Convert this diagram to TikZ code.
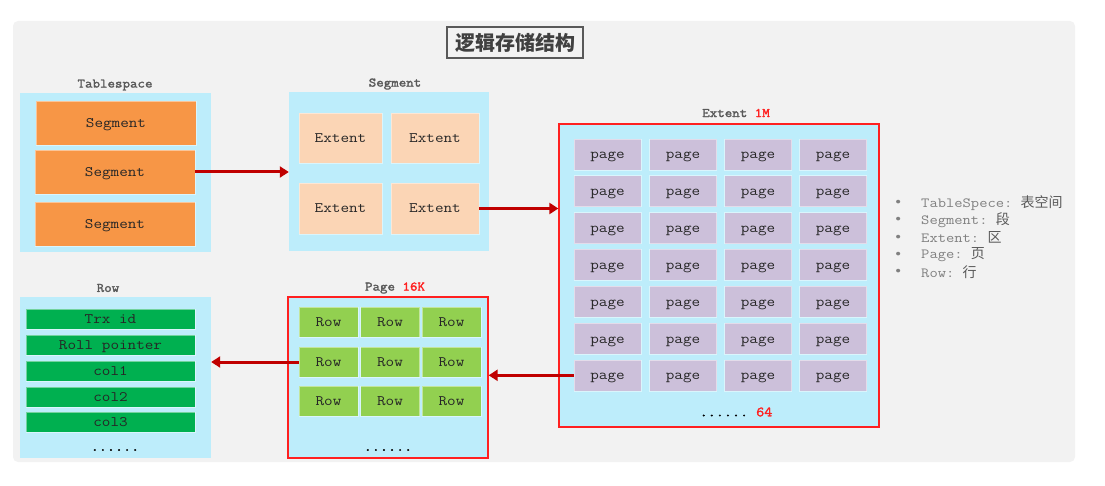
\documentclass[tikz,border=0pt]{standalone}
\usepackage{fontspec}
\setmainfont{Liberation Sans}
\setmonofont[FakeStretch=1.15]{Latin Modern Mono}
\newfontfamily\ttbold[FakeStretch=1.12, FakeBold=2]{Latin Modern Mono}
\newfontfamily\cjk{Noto Sans CJK SC}
\usetikzlibrary{arrows.meta}
\definecolor{bggray}{HTML}{F2F2F2}
\definecolor{cyanbox}{HTML}{BDEDFB}
\definecolor{orangebox}{HTML}{F79646}
\definecolor{peachbox}{HTML}{FBD5B5}
\definecolor{purplebox}{HTML}{CCC0DA}
\definecolor{lgreen}{HTML}{92D050}
\definecolor{dgreen}{HTML}{00B050}
\definecolor{darkred}{HTML}{C00000}
\definecolor{redline}{HTML}{FF2020}
\definecolor{labelgray}{HTML}{595959}
\definecolor{legendgray}{HTML}{808080}
\definecolor{titlegray}{HTML}{404040}
\tikzset{
  container/.style={fill=cyanbox, draw=none, inner sep=0},
  redcontainer/.style={fill=cyanbox, draw=redline, line width=1.3pt, inner sep=0},
  cell/.style={draw=white, draw opacity=0.45, line width=0.6pt, inner sep=0, text height=9pt, text depth=0pt,
    font=\ttfamily\fontsize{14.5}{14.5}\selectfont, text=black!85},
  seg/.style={cell, fill=orangebox, minimum width=160pt, minimum height=44pt},
  ext/.style={cell, fill=peachbox, minimum height=50pt},
  pg/.style={cell, fill=purplebox, minimum width=67pt, minimum height=31pt},
  rw/.style={cell, fill=lgreen, minimum width=59pt, minimum height=30pt},
  col/.style={cell, fill=dgreen, minimum width=169pt, minimum height=20pt},
  heading/.style={inner sep=0, font=\ttbold\fontsize{13}{13}\selectfont, text=labelgray},
  dots/.style={inner sep=0, font=\ttbold\fontsize{14}{14}\selectfont, text=black},
  link/.style={draw=darkred, line width=3pt, -{Triangle[length=9pt,width=11pt]}},
  legend/.style={inner sep=0, anchor=west, font=\ttfamily\fontsize{14}{14}\selectfont, text=legendgray},
}
\begin{document}
\begin{tikzpicture}[x=1pt, y=-1pt]
\useasboundingbox (0,0) rectangle (1105,486);
\fill[bggray, rounded corners=5pt] (13,21) rectangle (1075,462);

% title
\node[draw=labelgray, line width=1.2pt, fill=bggray, minimum width=136pt, minimum height=31pt, inner sep=0,
  font=\cjk\bfseries\fontsize{20}{20}\selectfont, text=titlegray] (title) at (515,42.5) {逻辑存储结构};

% Tablespace
\node[heading] (tslabel) at (115,85) {Tablespace};
\node[container, minimum width=191pt, minimum height=159pt] (tsbox) at (115.5,172.5) {};
\node[seg] (seg1) at (116,123) {Segment};
\node[seg] (seg2) at (115,172) {Segment};
\node[seg] (seg3) at (115,224) {Segment};

% Segment
\node[heading] (seglabel) at (395,84) {Segment};
\node[container, minimum width=200pt, minimum height=159pt] (segbox) at (389,171.5) {};
\node[ext, minimum width=83pt] (ext11) at (340.5,138) {Extent};
\node[ext, minimum width=88pt] (ext12) at (435,138) {Extent};
\node[ext, minimum width=83pt, minimum height=51pt] (ext21) at (340.5,208.5) {Extent};
\node[ext, minimum width=88pt, minimum height=51pt] (ext22) at (435,208.5) {Extent};

% Extent
\node[heading] (extlabel) at (736,113) {Extent \textcolor{redline}{1M}};
\node[redcontainer, minimum width=320pt, minimum height=303pt] (extbox) at (719,275.5) {};
\foreach \r in {1,...,7}{
  \foreach \c/\cx in {1/607.5,2/683,3/758,4/833}{
    \node[pg] (p\r\c) at (\cx,{154.5+36.8*(\r-1)}) {page};
  }
}
\node[dots] (extdots) at (736,412) {......\ \textcolor{redline}{64}};

% Page
\node[heading] (pagelabel) at (395,288) {Page \textcolor{redline}{16K}};
\node[redcontainer, minimum width=200pt, minimum height=161pt] (pagebox) at (388,377.5) {};
\foreach \r/\ry in {1/322,2/362,3/401}{
  \foreach \c/\cx in {1/328.5,2/390,3/451.5}{
    \node[rw] (r\r\c) at (\cx,\ry) {Row};
  }
}
\node[dots] (pagedots) at (388,450) {......};

% Row
\node[heading] (rowlabel) at (108,288) {Row};
\node[container, minimum width=191pt, minimum height=161pt] (rowbox) at (115.5,377.5) {};
\node[col] (c1) at (110.5,319) {Trx id};
\node[col] (c2) at (110.5,345) {Roll pointer};
\node[col] (c3) at (110.5,371) {col1};
\node[col] (c4) at (110.5,397) {col2};
\node[col] (c5) at (110.5,422) {col3};
\node[dots] (rowdots) at (115,450) {......};

% connectors
\draw[link] (seg2.east) -- (seg2.east -| segbox.west);
\draw[link] (ext22.east) -- (ext22.east -| extbox.west);
\draw[link] (p71.west) -- (p71.west -| pagebox.east);
\draw[link] (r21.west) -- (r21.west -| rowbox.east);

% legend
\foreach \i/\t/\z in {1/TableSpece/表空间,2/Segment/段,3/Extent/区,4/Page/页,5/Row/行}{
  \node[legend] (b\i) at (894,{203+17.3*(\i-1)}) {\textbullet};
  \node[legend] (l\i) at (921,{203+17.3*(\i-1)}) {\t: {\cjk\color{labelgray}\z}};
}
\end{tikzpicture}
\end{document}
